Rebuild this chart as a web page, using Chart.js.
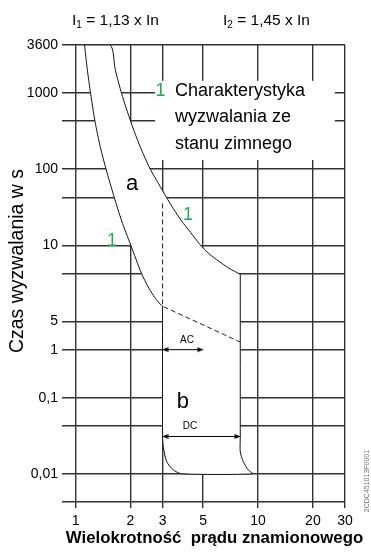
<!DOCTYPE html>
<html>
<head>
<meta charset="utf-8">
<script src="https://cdn.jsdelivr.net/npm/chart.js@4/dist/chart.umd.min.js"></script>
<style>
    html, body { margin: 0; padding: 0; background: #fff; }
</style>
</head>
<body>
<canvas id="myChart" width="371" height="552"></canvas>
<script>

// x axis: multiples of rated current, y axis: schematic time grid
let x_ticks = [1, 2, 3, 5, 10, 20, 30]
let y_ticks = [0, 0.37, 1, 1.37, 2, 2.37, 3, 3.37, 4, 4.37, 5, 5.37, 6]
let y_labels = ['', '0,01', '', '0,1', '1', '5', '', '10', '', '100', '', '1000', '3600']

// thermal band a - lower edge (I1 side)
let left_x = [1.12, 1.16, 1.21, 1.28, 1.37, 1.47, 1.63, 1.79, 2.01, 2.3, 2.52, 2.73, 2.93, 3.0]
let left_y = [6.0, 5.68, 5.36, 4.99, 4.65, 4.37, 4.0, 3.69, 3.37, 3.0, 2.81, 2.68, 2.59, 2.57]

// thermal band a - upper edge (I2 side)
let right_x = [1.55, 1.65, 1.79, 2.01, 2.18, 2.36, 2.58, 2.85, 3.15, 3.44, 3.81, 4.27, 4.81, 5.39, 6.11, 6.92, 8.0]
let right_y = [6.0, 5.68, 5.36, 4.99, 4.76, 4.56, 4.36, 4.18, 4.0, 3.85, 3.69, 3.54, 3.38, 3.26, 3.16, 3.07, 2.99]

// magnetic band b
let b_left_x = [3, 3, 3.035, 3.16, 3.44, 3.82]
let b_left_y = [2.57, 0.86, 0.71, 0.53, 0.42, 0.37]
let b_right_x = [8, 8, 8, 8.31, 8.85, 9.35]
let b_right_y = [2.99, 0.86, 0.66, 0.53, 0.42, 0.37]

// dashed part of the curve
let dash_x = [3, 3, 8]
let dash_y = [3.92, 2.57, 2.1]

// AC / DC arrows
let ac_x = [3, 5]
let ac_y = [2, 2]
let dc_x = [3, 8]
let dc_y = [0.86, 0.86]

let font_family = '"Liberation Sans", Arial, sans-serif'
let grid_color = '#333'
let green = '#25a856'

function pts(xs, ys) {
    return xs.map((x, i) => ({x: x, y: ys[i]}))
}

// closed outline of both bands, filled white so the grid is hidden inside
let outline = pts(left_x, left_y)
    .concat(pts(b_left_x, b_left_y))
    .concat(pts(b_right_x, b_right_y).reverse())
    .concat(pts(right_x, right_y).reverse())
outline.push(outline[0])

// arrow head pointing right, tip in the middle of the canvas
let head = document.createElement('canvas')
head.width = 12
head.height = 7
let hctx = head.getContext('2d')
hctx.fillStyle = '#000'
hctx.beginPath()
hctx.moveTo(6, 3.5)
hctx.lineTo(0.5, 1)
hctx.lineTo(0.5, 6)
hctx.closePath()
hctx.fill()

function text(ctx, s, x, y, font, color, align) {
    ctx.font = font
    ctx.fillStyle = color || '#000'
    ctx.textAlign = align || 'center'
    ctx.textBaseline = 'middle'
    ctx.fillText(s, x, y)
}

// "I" with a subscript, then the rest of the label
function current_label(ctx, sub, rest, x, y) {
    ctx.textAlign = 'left'
    ctx.textBaseline = 'middle'
    ctx.fillStyle = '#000'
    ctx.font = '15.5px ' + font_family
    ctx.fillText('I', x, y)
    let w = ctx.measureText('I').width
    ctx.font = '10px ' + font_family
    ctx.fillText(sub, x + w, y + 5)
    w += ctx.measureText(sub).width
    ctx.font = '15.5px ' + font_family
    ctx.fillText(rest, x + w, y)
}

let extras = {
    id: 'extras',
    beforeDatasetsDraw(chart) {
        let ctx = chart.ctx
        let sx = chart.scales.x
        let sy = chart.scales.y
        // white panel behind the description text
        let x1 = sx.getPixelForValue(2.73)
        let x2 = sx.getPixelForValue(26.4)
        let y1 = sy.getPixelForValue(5.53)
        let y2 = sy.getPixelForValue(4.49)
        ctx.save()
        ctx.fillStyle = '#fff'
        ctx.fillRect(x1, y1, x2 - x1, y2 - y1)
        ctx.restore()
    },
    afterDatasetsDraw(chart) {
        let ctx = chart.ctx
        let sx = chart.scales.x
        let sy = chart.scales.y
        let px = v => sx.getPixelForValue(v)
        let py = v => sy.getPixelForValue(v)
        ctx.save()

        text(ctx, '1', px(2.92), py(5.4), '18px ' + font_family, green)
        text(ctx, 'Charakterystyka', px(3.51), py(5.4), '18px ' + font_family, '#000', 'left')
        text(ctx, 'wyzwalania ze', px(3.51), py(5.05), '18px ' + font_family, '#000', 'left')
        text(ctx, 'stanu zimnego', px(3.51), py(4.7), '18px ' + font_family, '#000', 'left')

        text(ctx, 'a', px(2.04), py(4.18), '22px ' + font_family)
        text(ctx, 'b', px(3.88), py(1.32), '22px ' + font_family)
        text(ctx, '1', px(4.13), py(3.77), '18px ' + font_family, green)
        text(ctx, '1', px(1.585), py(3.43), '18px ' + font_family, green)
        text(ctx, 'AC', px(4.08), py(2.12), '10px ' + font_family)
        text(ctx, 'DC', px(4.24), py(0.99), '10px ' + font_family)

        current_label(ctx, '1', ' = 1,13 x In', 72, 20.5)
        current_label(ctx, '2', ' = 1,45 x In', 223, 20.5)

        text(ctx, 'Wielokrotność  prądu znamionowego', 214.5, 538, 'bold 16.8px ' + font_family)

        ctx.save()
        ctx.translate(18, 261)
        ctx.rotate(-Math.PI / 2)
        text(ctx, 'Czas wyzwalania w s', 0, 0, '19.5px ' + font_family)
        ctx.restore()

        ctx.save()
        ctx.translate(367, 481)
        ctx.rotate(-Math.PI / 2)
        text(ctx, '2CDC451013F0001', 0, 0, '7px ' + font_family, '#777')
        ctx.restore()

        ctx.restore()
    }
}

let ctx = document.getElementById('myChart').getContext('2d')

let arrow = {
    borderColor: '#000',
    borderWidth: 1,
    pointStyle: head,
    pointRotation: [180, 0]
}

let myChart = new Chart(ctx, {
    type: 'line',
    data: {
        datasets: [
            Object.assign({data: pts(ac_x, ac_y)}, arrow),
            Object.assign({data: pts(dc_x, dc_y)}, arrow),
            {
                data: pts(dash_x, dash_y),
                borderColor: '#222',
                borderWidth: 1,
                borderDash: [5, 3],
                pointRadius: 0
            }, {
                data: outline,
                borderColor: '#111',
                borderWidth: 1,
                backgroundColor: '#fff',
                fill: 'shape',
                pointRadius: 0,
                tension: 0.25
            }
        ]
    },
    options: {
        responsive: false,
        animation: false,
        events: [],
        layout: {
            padding: {top: 45, right: 26, left: 0, bottom: 0}
        },
        plugins: {
            legend: {display: false},
            tooltip: {enabled: false}
        },
        scales: {
            x: {
                type: 'logarithmic',
                min: 0.843,
                max: 30,
                afterBuildTicks: s => { s.ticks = x_ticks.map(v => ({value: v})) },
                afterFit: s => { s.height = 50 },
                border: {display: false},
                grid: {color: grid_color, lineWidth: 1.4, tickLength: 6},
                ticks: {
                    autoSkip: false,
                    maxRotation: 0,
                    padding: 5,
                    color: '#000',
                    font: {family: font_family, size: 14},
                    callback: v => String(v)
                }
            },
            y: {
                type: 'linear',
                min: 0,
                max: 6,
                afterBuildTicks: s => { s.ticks = y_ticks.map(v => ({value: v})) },
                afterFit: s => { s.width = 62 },
                border: {display: false},
                grid: {color: grid_color, lineWidth: 1.4, drawTicks: false},
                ticks: {
                    autoSkip: false,
                    padding: 4,
                    color: '#000',
                    font: {family: font_family, size: 14},
                    callback: (v, i) => y_labels[i]
                }
            }
        }
    },
    plugins: [extras]
})
</script>
</body>
</html>
